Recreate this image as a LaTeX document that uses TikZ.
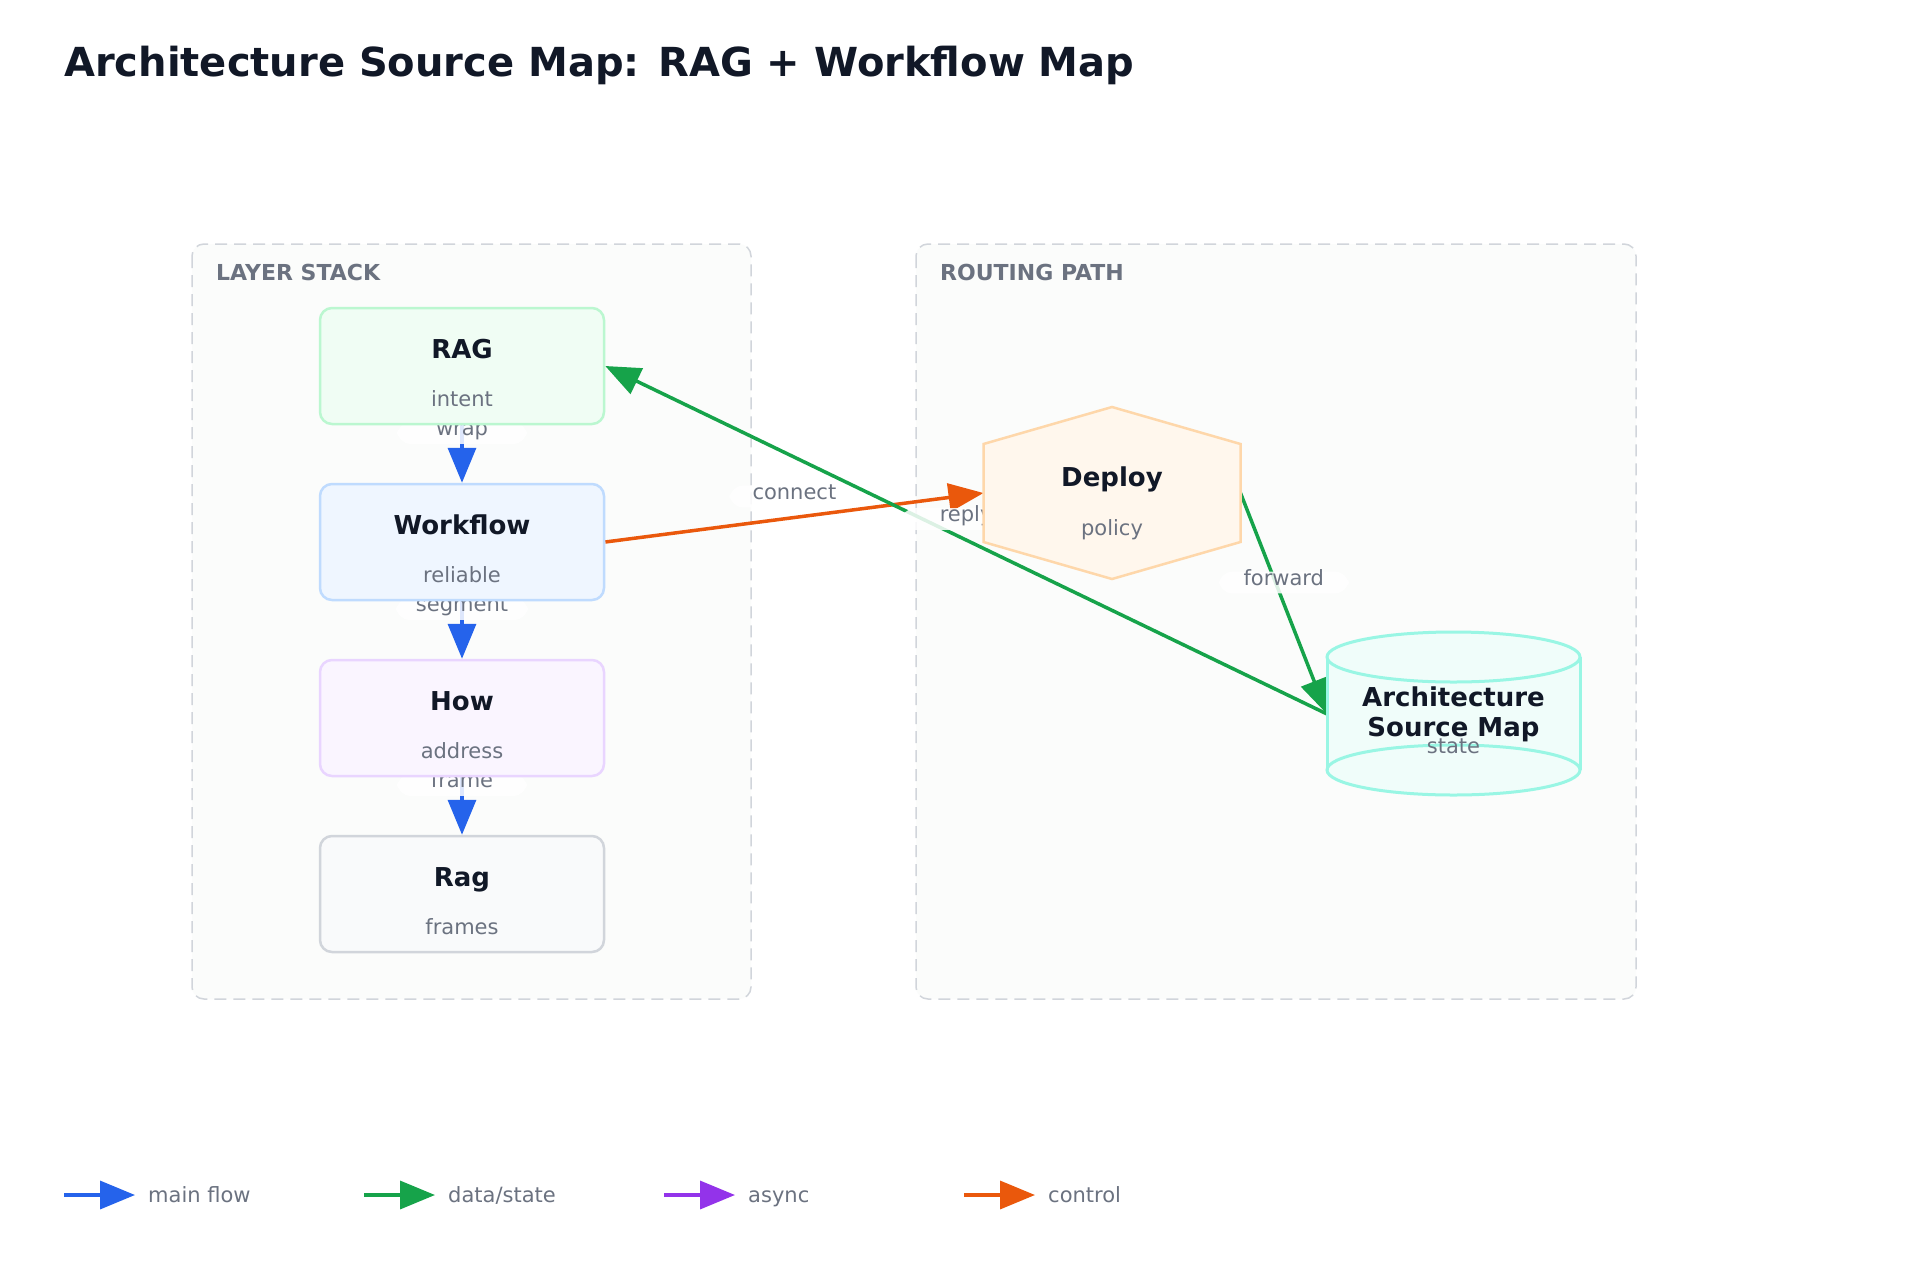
\documentclass[tikz,border=0pt]{standalone}
\usepackage{fontspec}
\setmainfont{DejaVu Sans}
\usepackage{xcolor}
\usetikzlibrary{arrows.meta,calc}

\definecolor{inkdark}{HTML}{111827}
\definecolor{inkgray}{HTML}{6B7280}
\definecolor{panelline}{HTML}{D1D5DB}
\definecolor{panelfill}{HTML}{FBFCFB}
\definecolor{flowblue}{HTML}{2563EB}
\definecolor{flowgreen}{HTML}{16A34A}
\definecolor{flowpurple}{HTML}{9333EA}
\definecolor{floworange}{HTML}{EA580C}
\definecolor{ragfill}{HTML}{F0FDF4}
\definecolor{ragline}{HTML}{BBF7D0}
\definecolor{wffill}{HTML}{EFF6FF}
\definecolor{wfline}{HTML}{BFDBFE}
\definecolor{howfill}{HTML}{FAF5FF}
\definecolor{howline}{HTML}{E9D5FF}
\definecolor{basefill}{HTML}{F9FAFB}
\definecolor{baseline}{HTML}{D1D5DB}
\definecolor{deployfill}{HTML}{FFF7ED}
\definecolor{deployline}{HTML}{FED7AA}
\definecolor{archfill}{HTML}{F0FDFA}
\definecolor{archline}{HTML}{99F6E4}

\pgfdeclarelayer{panels}
\pgfdeclarelayer{links}
\pgfsetlayers{panels,links,main}

\begin{document}
\begin{tikzpicture}[x=1pt, y=-1pt,
    layerbox/.style={draw, rounded corners=12pt, line width=2.5pt, minimum width=284pt, minimum height=116pt, inner sep=0pt},
    boxtitle/.style={anchor=base, inner sep=0pt, font=\fontsize{26}{30}\selectfont\bfseries, text=inkdark},
    boxsub/.style={anchor=base, inner sep=0pt, font=\fontsize{21}{25}\selectfont, text=inkgray},
    panel/.style={draw=panelline, fill=panelfill, line width=1.5pt, dash pattern=on 12pt off 7pt, rounded corners=12pt},
    paneltitle/.style={anchor=base west, inner sep=0pt, font=\fontsize{22}{26}\selectfont\bfseries, text=inkgray},
    link/.style={line width=3.5pt, -{Triangle[length=35pt,width=28pt]}},
    linklabel/.style={fill=white, fill opacity=0.85, text opacity=1, rounded corners=14pt, minimum width=130pt, inner xsep=20pt, inner ysep=6pt, text height=0.76em, text depth=0.22em, font=\fontsize{21}{25}\selectfont, text=inkgray, yshift=21pt},
    legtext/.style={anchor=west, inner sep=0pt, text height=0.76em, text depth=0.22em, font=\fontsize{21}{25}\selectfont, text=inkgray}
]
    \useasboundingbox (0,0) rectangle (1920,1280);

    % Background and the two panels
    \begin{pgfonlayer}{panels}
    \fill[white] (0,0) rectangle (1920,1280);
    \draw[panel] (192,244) rectangle (751,999);
    \draw[panel] (916,244) rectangle (1636,999);
    \end{pgfonlayer}
    \node[paneltitle] (stacklabel) at (216,280) {LAYER STACK};
    \node[paneltitle] (routelabel) at (940,280) {ROUTING PATH};

    \node[anchor=base west, inner sep=0pt, font=\fontsize{40}{48}\selectfont\bfseries, text=inkdark] (title) at (64,76) {Architecture Source Map: RAG + Workflow Map};

    % Layer stack
    \node[layerbox, draw=ragline, fill=ragfill] (rag) at (462,366) {};
    \node[boxtitle] at ([yshift=8pt]rag.center) {RAG};
    \node[boxsub] at ([yshift=-40pt]rag.center) {intent};

    \node[layerbox, draw=wfline, fill=wffill] (workflow) at (462,542) {};
    \node[boxtitle] at ([yshift=8pt]workflow.center) {Workflow};
    \node[boxsub] at ([yshift=-40pt]workflow.center) {reliable};

    \node[layerbox, draw=howline, fill=howfill] (how) at (462,718) {};
    \node[boxtitle] at ([yshift=8pt]how.center) {How};
    \node[boxsub] at ([yshift=-40pt]how.center) {address};

    \node[layerbox, draw=baseline, fill=basefill] (ragbase) at (462,894) {};
    \node[boxtitle] at ([yshift=8pt]ragbase.center) {Rag};
    \node[boxsub] at ([yshift=-40pt]ragbase.center) {frames};

    % Deploy hexagon
    \node[minimum width=257pt, minimum height=172pt, inner sep=0pt, outer sep=0pt] (deploy) at (1112,493) {};
    \draw[draw=deployline, fill=deployfill, line width=2.5pt]
        (deploy.north) -- ($(deploy.north east)+(0,37)$) -- ($(deploy.south east)+(0,-37)$)
        -- (deploy.south) -- ($(deploy.south west)+(0,-37)$) -- ($(deploy.north west)+(0,37)$) -- cycle;
    \node[boxtitle] at ([yshift=7pt]deploy.center) {Deploy};
    \node[boxsub] at ([yshift=-42pt]deploy.center) {policy};

    % Architecture Source Map cylinder
    \node[minimum width=253pt, minimum height=164pt, inner sep=0pt, outer sep=0pt] (arch) at (1453.5,714) {};
    \fill[archfill] (1327,657) rectangle (1580,770);
    \draw[draw=archline, fill=archfill, line width=3pt] (1453.5,770) ellipse[x radius=126.5, y radius=25];
    \draw[archline, line width=3pt] (1327,657) -- (1327,770) (1580,657) -- (1580,770);
    \draw[draw=archline, fill=archfill, line width=3pt] (1453.5,657) ellipse[x radius=126.5, y radius=25];
    \node[boxtitle] at ([yshift=8pt]arch.center) {Architecture};
    \node[boxtitle] at ([yshift=-22pt]arch.center) {Source Map};
    \node[boxsub] at ([yshift=-39pt]arch.center) {state};

    % Connectors
    \begin{pgfonlayer}{links}
    \draw[link, flowblue] (rag) -- node[linklabel] {wrap} (workflow);
    \draw[link, flowblue] (workflow) -- node[linklabel] {segment} (how);
    \draw[link, flowblue] (how) -- node[linklabel] {frame} (ragbase);
    \draw[link, floworange] (workflow.east) -- node[linklabel] {connect} (deploy.west);
    \draw[link, flowgreen] (arch.west) -- node[linklabel] {reply} (rag.east);
    \draw[link, flowgreen] (deploy.east) -- node[linklabel] {forward} (arch.west);
    \end{pgfonlayer}

    % Legend
    \coordinate (legmain) at (64,1195);
    \node[legtext] (legmaintext) at (148,1200) {main flow};
    \draw[link, flowblue] (legmain) -- ([xshift=-13pt]legmaintext.west |- legmain);
    \coordinate (legdata) at (364,1195);
    \node[legtext] (legdatatext) at (448,1200) {data/state};
    \draw[link, flowgreen] (legdata) -- ([xshift=-13pt]legdatatext.west |- legdata);
    \coordinate (legasync) at (664,1195);
    \node[legtext] (legasynctext) at (748,1200) {async};
    \draw[link, flowpurple] (legasync) -- ([xshift=-13pt]legasynctext.west |- legasync);
    \coordinate (legctrl) at (964,1195);
    \node[legtext] (legctrltext) at (1048,1200) {control};
    \draw[link, floworange] (legctrl) -- ([xshift=-13pt]legctrltext.west |- legctrl);
\end{tikzpicture}
\end{document}
